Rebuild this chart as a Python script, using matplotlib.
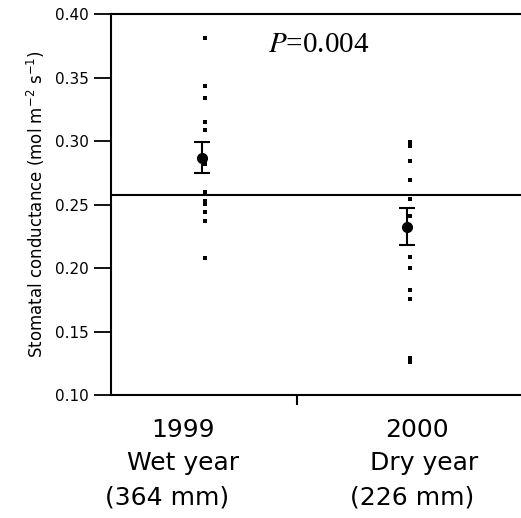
import numpy as np
import matplotlib.pyplot as plt
from matplotlib.transforms import blended_transform_factory

plt.rcParams['font.family'] = ['DejaVu Sans']

# individual measurements (mol m-2 s-1)
wet_1999 = [0.381, 0.3435, 0.334, 0.315, 0.309, 0.282, 0.260, 0.253,
            0.2505, 0.244, 0.237, 0.208]
dry_2000 = [0.2995, 0.296, 0.284, 0.269, 0.254, 0.241, 0.2085, 0.200,
            0.183, 0.1755, 0.129, 0.126]

# group means and standard errors
means = [0.287, 0.2325]
ses = [0.0122, 0.0145]
overall_mean = 0.2575

group_x = [1, 3]
group_labels = [['1999', 'Wet year', '(364 mm)'],
                ['2000', 'Dry year', '(226 mm)']]
# horizontal shift of each label line (data units)
line_shift = [[-0.215, -0.215, -0.37],
              [0.07, 0.14, 0.02]]
yticks = [0.10, 0.15, 0.20, 0.25, 0.30, 0.35, 0.40]

fig = plt.figure(figsize=(5.21, 5.18), dpi=100)
ax = fig.add_axes([111 / 521, 1 - 395 / 518, 410 / 521, 381 / 518])

for xpos, vals in zip(group_x, [wet_1999, dry_2000]):
    ax.plot([xpos] * len(vals), vals, 's', color='black', markersize=3.2,
            markeredgewidth=0)

ax.errorbar([x - 0.025 for x in group_x], means, yerr=ses, fmt='o',
            color='black', markersize=7, capsize=5.5, elinewidth=1.5,
            capthick=1.5)

ax.axhline(overall_mean, color='black', linewidth=1.5)

ax.set_xlim(0.083, 4.083)
ax.set_ylim(0.10, 0.40)
ax.set_yticks(yticks)
ax.set_yticklabels(['%.2f' % t for t in yticks], fontsize=11)
ax.set_xticks([1.9])
ax.set_xticklabels([''])
ax.tick_params(axis='y', direction='out', length=12, width=1.3, pad=4)
ax.tick_params(axis='x', direction='out', length=7, width=1.5)

ax.spines['right'].set_visible(False)
for side in ['left', 'top', 'bottom']:
    ax.spines[side].set_linewidth(1.5)

ax.set_ylabel('Stomatal conductance (mol m$^{-2}$ s$^{-1}$)', fontsize=12,
              labelpad=6)

trans = blended_transform_factory(ax.transData, fig.transFigure)
line_y = [1 - 430 / 518, 1 - 463 / 518, 1 - 497 / 518]
for xpos, lines, shifts in zip(group_x, group_labels, line_shift):
    for txt, sh, yy in zip(lines, shifts, line_y):
        ax.text(xpos + sh, yy, txt, transform=trans, ha='center',
                va='center', fontsize=18)

ax.text(0.507, 0.900, '$P$=0.004', transform=ax.transAxes, ha='center',
        va='baseline', fontsize=21, family=['Liberation Serif'],
        math_fontfamily='stix')

fig.savefig('out.png', dpi=100)
